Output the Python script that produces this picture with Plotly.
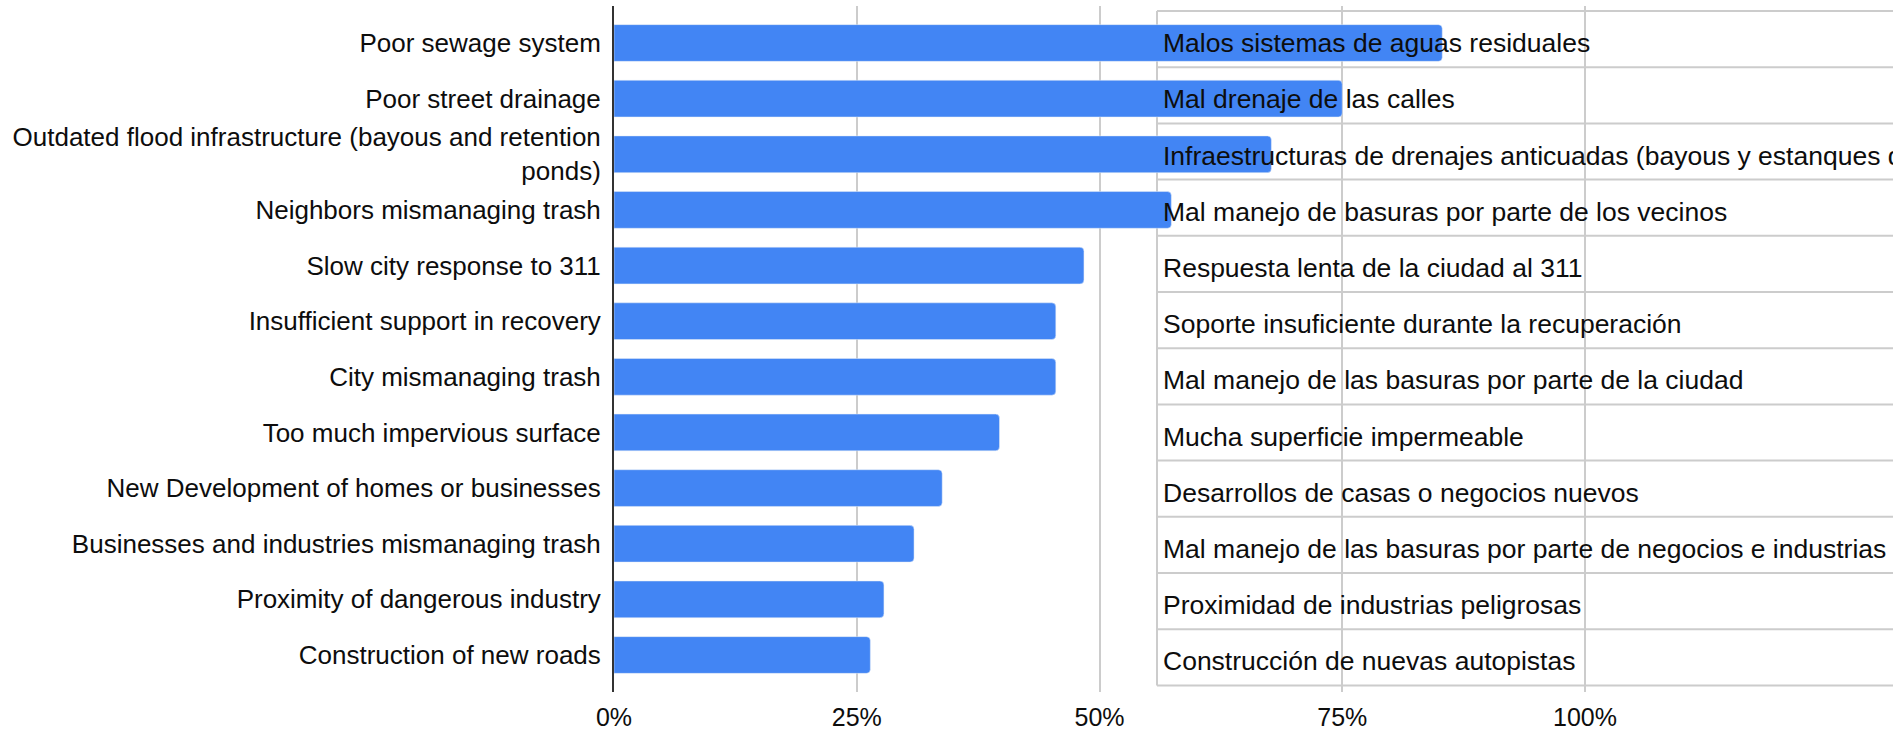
import plotly.graph_objects as go

issues = [
    "Poor sewage system",
    "Poor street drainage",
    "Outdated flood infrastructure (bayous and retention<br>ponds)",
    "Neighbors mismanaging trash",
    "Slow city response to 311",
    "Insufficient support in recovery",
    "City mismanaging trash",
    "Too much impervious surface",
    "New Development of homes or businesses",
    "Businesses and industries mismanaging trash",
    "Proximity of dangerous industry",
    "Construction of new roads",
]
shares = [0.853, 0.750, 0.677, 0.574, 0.484, 0.455, 0.455, 0.397, 0.338, 0.309, 0.278, 0.264]

issues_es = [
    "Malos sistemas de aguas residuales",
    "Mal drenaje de las calles",
    "Infraestructuras de drenajes anticuadas (bayous y estanques de retención)",
    "Mal manejo de basuras por parte de los vecinos",
    "Respuesta lenta de la ciudad al 311",
    "Soporte insuficiente durante la recuperación",
    "Mal manejo de las basuras por parte de la ciudad",
    "Mucha superficie impermeable",
    "Desarrollos de casas o negocios nuevos",
    "Mal manejo de las basuras por parte de negocios e industrias",
    "Proximidad de industrias peligrosas",
    "Construcción de nuevas autopistas",
]

x_ticks = [0, 0.25, 0.5, 0.75, 1.0]
x_tick_labels = ["0%", "25%", "50%", "75%", "100%"]

W, H = 1893, 732
M_L, M_T, M_B = 614, 6, 40
PLOT_H = H - M_T - M_B
X_MAX = (W - M_L) / 971


def py(y):
    # pixel row -> paper coordinate
    return (H - M_B - y) / PLOT_H


FONT = "Arial, Liberation Sans, sans-serif"
GRID = "#cccccc"
INK = "#0d0d0d"

fig = go.Figure()
fig.add_trace(
    go.Bar(
        x=shares,
        y=issues,
        orientation="h",
        marker=dict(color="#4285f4", cornerradius=4),
        hoverinfo="x+y",
    )
)

# spreadsheet cells sitting behind the chart
tab_left = (1157 - M_L) / 971
row_h = 56.2
row_top = 11
shapes = [
    dict(type="line", xref="x", yref="paper", x0=tab_left, x1=tab_left,
         y0=py(row_top), y1=py(row_top + row_h * len(issues_es)),
         line=dict(color=GRID, width=2), layer="below")
]
for k in range(len(issues_es) + 1):
    yy = py(row_top + row_h * k)
    shapes.append(dict(type="line", xref="x", yref="paper", x0=tab_left, x1=X_MAX,
                       y0=yy, y1=yy, line=dict(color=GRID, width=2), layer="below"))

annotations = []
for k, txt in enumerate(issues_es):
    annotations.append(dict(
        x=(1161 - M_L) / 971, xref="x", xanchor="left",
        y=py(row_top + row_h * (k + 0.5) + 4), yref="paper", yanchor="middle",
        text=txt, showarrow=False,
        font=dict(family=FONT, size=26.5, color=INK),
    ))

fig.update_layout(
    width=W, height=H,
    margin=dict(l=M_L, r=0, t=M_T, b=M_B),
    paper_bgcolor="white", plot_bgcolor="white",
    bargap=0.34,
    showlegend=False,
    shapes=shapes,
    annotations=annotations,
    font=dict(family=FONT, size=26, color=INK),
)
fig.update_xaxes(
    range=[0, X_MAX],
    tickvals=x_ticks, ticktext=x_tick_labels,
    showgrid=True, gridcolor=GRID, gridwidth=2,
    zeroline=False, showline=False,
    ticklabelstandoff=8,
    tickfont=dict(family=FONT, size=25, color=INK),
)
fig.update_yaxes(
    type="category",
    range=[len(issues) - 1 + 0.665, -0.665],
    showgrid=False, zeroline=False,
    showline=True, linecolor="#333333", linewidth=2,
    automargin=False,
    ticklabelstandoff=6,
    tickfont=dict(family=FONT, size=26, color=INK),
)

fig.write_html("out.html", config={"displayModeBar": False},
               post_script="document.body.style.margin='0';")
